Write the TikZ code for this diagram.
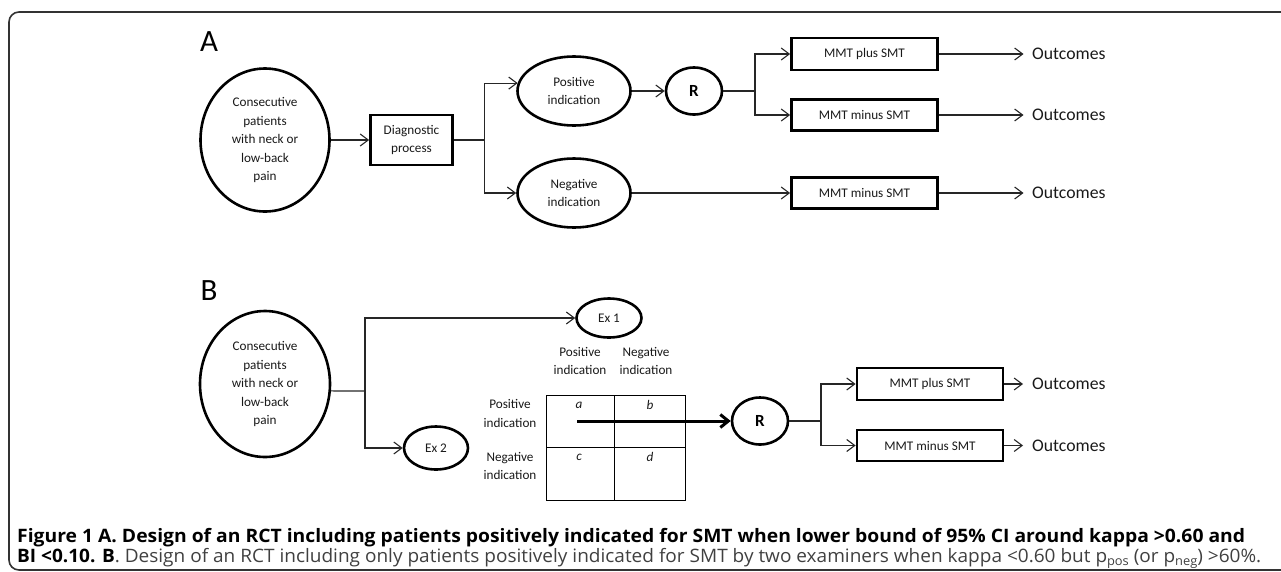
\documentclass[tikz,border=0pt]{standalone}
\usepackage{fontspec}
\setmainfont{Carlito}
\newfontfamily\capfont{Open Sans}
\usetikzlibrary{shapes.geometric,arrows.meta}
\begin{document}
\begin{tikzpicture}[x=1pt,y=-1pt,
  lbl/.style={font=\fontsize{13.2}{18.5}\selectfont, align=center, inner sep=0pt, text=black!90},
  oval/.style={draw, ellipse, line width=2.6pt, lbl},
  boxx/.style={draw, rectangle, line width=2.8pt, lbl},
  conn/.style={line width=1.1pt, draw=black!85, -{Straight Barb[length=8pt,width=12pt]}},
  plainln/.style={line width=1.1pt, draw=black!85},
  outc/.style={font=\fontsize{17.7}{20}\selectfont, inner sep=0pt, anchor=west, text=black!90},
  panel/.style={font=\fontsize{31}{31}\selectfont, inner sep=0pt},
  rnode/.style={draw, ellipse, line width=2.6pt, minimum width=56pt, minimum height=47pt, inner sep=0pt, font=\fontsize{17}{17}\selectfont\bfseries},
  cell/.style={lbl, font=\fontsize{13.2}{16}\selectfont\itshape},
  capline/.style={anchor=base west, inner sep=0pt, font=\capfont\fontsize{18.5}{20}\selectfont}
]
\path[use as bounding box] (0,0) rectangle (1281,571);
\clip (0,0) rectangle (1281,571);

% frame
\draw[line width=1.6pt, draw=black!80, rounded corners=10pt] (9,12) rectangle (1300,570);

% ---------------- A ----------------
\node[panel] (labA) at (209,42) {A};
\node[oval, minimum width=129pt, minimum height=143pt] (patA) at (265,140) {Consecutive\\patients\\with neck or\\low-back\\pain};
\node[boxx, minimum width=82pt, minimum height=50pt] (diag) at (411.5,140) {Diagnostic\\process};
\node[oval, minimum width=113pt, minimum height=69pt] (pos) at (574,91) {Positive\\indication};
\node[oval, minimum width=113pt, minimum height=69pt] (neg) at (574,193) {Negative\\indication};
\node[rnode] (rA) at (694,91) {R};
\node[boxx, minimum width=146pt, minimum height=32pt] (plusA) at (864.5,54) {MMT plus SMT};
\node[boxx, minimum width=146pt, minimum height=31pt] (minusA) at (864.5,115) {MMT minus SMT};
\node[boxx, minimum width=146pt, minimum height=31pt] (minusA2) at (864.5,193) {MMT minus SMT};
\node[outc] (oA1) at (1032,54) {Outcomes};
\node[outc] (oA2) at (1032,115) {Outcomes};
\node[outc] (oA3) at (1032,193) {Outcomes};

\coordinate (bA) at (484.5,140);
\coordinate (bR) at (755,91);
\draw[conn] (patA) -- (diag);
\draw[plainln] (diag.east) -- (bA);
\draw[conn] (bA) |- (pos.172);
\draw[conn] (bA) |- (neg.west);
\draw[conn] (pos) -- (rA);
\draw[plainln] (rA.east) -- (bR);
\draw[conn] (bR) |- (plusA.west);
\draw[conn] (bR) |- (minusA.west);
\draw[conn] (neg) -- (minusA2);
\draw[conn, shorten >=8.5pt] (plusA.east) -- (oA1.west);
\draw[conn, shorten >=8.5pt] (minusA.east) -- (oA2.west);
\draw[conn, shorten >=8.5pt] (minusA2.east) -- (oA3.west);

% ---------------- B ----------------
\node[panel] (labB) at (209,291) {B};
\node[oval, minimum width=130pt, minimum height=146pt] (patB) at (265,384) {Consecutive\\patients\\with neck or\\low-back\\pain};
\node[oval, minimum width=65pt, minimum height=39pt] (ex1) at (609,318) {Ex 1};
\node[oval, minimum width=64pt, minimum height=43pt] (ex2) at (436,448) {Ex 2};
\coordinate (bB) at (365,391);
\draw[plainln] (patB.-6) -- (bB);
\draw[conn] (bB) |- (ex1.west);
\draw[conn] (bB) |- (ex2.west);

\node[lbl] (cpos) at (580,361) {Positive\\indication};
\node[lbl] (cneg) at (646,361) {Negative\\indication};
\node[lbl] (rpos) at (510,413.5) {Positive\\indication};
\node[lbl] (rneg) at (510,466) {Negative\\indication};

\draw[line width=1pt] (546,395) rectangle (685,500);
\draw[line width=1pt] (614,395) -- (614,500);
\draw[line width=1pt] (546,447) -- (685,447);
\node[cell] (ca) at (579,405) {a};
\node[cell] (cb) at (650,405) {b};
\node[cell] (cc) at (579,457) {c};
\node[cell] (cd) at (650,457) {d};

\node[rnode] (rB) at (760,421) {R};
\coordinate (ts) at (577,421);
\draw[line width=3pt, -{Straight Barb[length=8pt,width=13pt]}] (ts) -- (rB.west);

\coordinate (bRB) at (821,421);
\node[boxx, minimum width=146pt, minimum height=32pt] (plusB) at (930,384) {MMT plus SMT};
\node[boxx, minimum width=146pt, minimum height=31pt] (minusB) at (930,445.5) {MMT minus SMT};
\node[outc] (oB1) at (1032,384) {Outcomes};
\node[outc] (oB2) at (1032,445.5) {Outcomes};
\draw[plainln] (rB.east) -- (bRB);
\draw[conn] (bRB) |- (plusB.west);
\draw[conn] (bRB) |- (minusB.west);
\draw[conn, shorten >=9pt] (plusB.east) -- (oB1.west);
\draw[conn, shorten >=9pt] (minusB.east) -- (oB2.west);

% ---------------- caption ----------------
\node[capline, font=\capfont\fontsize{18.5}{20}\selectfont\bfseries] (cap1) at (17,542)
 {\resizebox{1228pt}{\height}{Figure 1 A. Design of an RCT including patients positively indicated for SMT when lower bound of 95\% CI around kappa >0.60 and}};
\node[capline] (cap2) at (17,562)
 {\resizebox{1244pt}{\height}{\textbf{BI <0.10. B}\color{black!75}. Design of an RCT including only patients positively indicated for SMT by two examiners when kappa <0.60 but p\raisebox{-3.5pt}{\fontsize{12.5}{12.5}\selectfont pos} (or p\raisebox{-3.5pt}{\fontsize{12.5}{12.5}\selectfont neg}) >60\%.}};
\end{tikzpicture}
\end{document}
